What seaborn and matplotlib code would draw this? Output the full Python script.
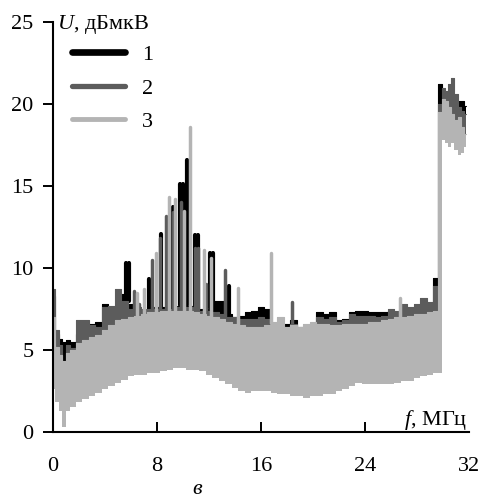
import numpy as np
import pandas as pd
import matplotlib
matplotlib.use("Agg")
import matplotlib.pyplot as plt
import seaborn as sns
from matplotlib.lines import Line2D

# ---------------- data ----------------
freq = [0.0, 0.3, 0.6, 0.85, 1.1, 1.5, 2.0, 2.5, 3.0, 3.5, 4.0, 4.5, 5.0, 5.5,
        6.0, 6.5, 7.0, 7.5, 8.0, 8.5, 9.0, 9.5, 10.0, 10.5, 11.0, 11.5, 12.0,
        12.5, 13.0, 13.5, 14.0, 14.5, 15.0, 15.5, 16.0, 16.5, 17.0, 17.5, 18.0,
        18.5, 19.0, 19.5, 20.0, 20.5, 21.0, 21.5, 22.0, 22.5, 23.0, 23.5, 24.0,
        24.5, 25.0, 25.5, 26.0, 26.5, 27.0, 27.5, 28.0, 28.5, 29.0, 29.5, 29.8,
        30.0, 30.25, 30.5, 30.75, 31.0, 31.25, 31.5, 31.75]

# upper envelope of series 1 (black)
top1 = [8.3, 6.0, 5.7, 5.5, 5.6, 5.5, 6.0, 6.3, 6.6, 6.7, 7.8, 7.5, 7.6, 8.4,
        7.8, 7.3, 7.4, 7.6, 7.6, 7.6, 7.6, 7.7, 7.8, 7.7, 7.6, 7.5, 7.5,
        8.0, 8.0, 7.2, 7.0, 7.1, 7.3, 7.4, 7.6, 7.5, 6.6, 6.4, 6.6,
        6.8, 6.4, 6.4, 6.6, 7.3, 7.2, 7.3, 6.8, 6.9, 7.3, 7.4, 7.4,
        7.3, 7.3, 7.3, 7.4, 7.3, 7.2, 7.4, 7.5, 7.6, 7.8, 9.4, 21.2,
        20.6, 20.2, 20.0, 19.8, 19.6, 20.2, 20.2, 19.9]
# upper envelope of series 2 (dark grey)
top2 = [8.7, 6.2, 5.3, 4.2, 5.3, 5.1, 6.8, 6.8, 6.5, 6.4, 7.6, 7.7, 8.7, 8.0,
        7.5, 7.6, 7.5, 7.5, 7.5, 7.5, 7.5, 7.6, 7.6, 7.6, 7.5, 7.4, 7.4,
        7.3, 7.2, 7.0, 7.0, 6.9, 6.9, 6.9, 7.0, 6.9, 6.5, 6.6, 6.4,
        6.6, 6.3, 6.2, 6.4, 7.0, 6.9, 7.0, 6.7, 6.8, 7.2, 7.1, 7.1,
        7.1, 7.0, 7.1, 7.5, 7.4, 7.8, 7.6, 7.8, 8.2, 7.9, 8.9, 20.0,
        21.0, 20.8, 21.2, 21.6, 20.6, 19.8, 19.6, 19.4]
# upper envelope of series 3 (light grey)
top3 = [7.0, 5.2, 4.7, 4.3, 4.8, 5.0, 5.4, 5.6, 5.8, 5.9, 6.2, 6.5, 6.8, 6.9,
        7.0, 7.1, 7.2, 7.3, 7.3, 7.4, 7.4, 7.4, 7.4, 7.4, 7.3, 7.2, 7.1,
        7.0, 6.9, 6.7, 6.6, 6.5, 6.4, 6.4, 6.4, 6.5, 6.7, 7.0, 6.4,
        6.5, 6.4, 6.6, 6.7, 6.6, 6.6, 6.5, 6.5, 6.6, 6.6, 6.6, 6.6,
        6.7, 6.7, 6.8, 6.9, 7.0, 7.0, 7.1, 7.2, 7.2, 7.3, 7.4, 19.5,
        20.3, 20.2, 19.8, 19.4, 19.0, 19.2, 18.6, 18.2]
# lower envelope of the noise band
low = [2.6, 1.8, 1.3, 0.3, 1.3, 1.5, 1.8, 2.0, 2.2, 2.4, 2.6, 2.8, 3.0, 3.2,
       3.4, 3.5, 3.5, 3.6, 3.6, 3.7, 3.8, 3.9, 3.9, 3.8, 3.8, 3.7, 3.5,
       3.3, 3.1, 2.9, 2.7, 2.5, 2.4, 2.5, 2.5, 2.5, 2.4, 2.3, 2.3,
       2.2, 2.2, 2.1, 2.2, 2.2, 2.3, 2.3, 2.5, 2.6, 2.8, 3.0, 2.9,
       2.9, 2.9, 2.9, 2.9, 3.0, 3.1, 3.1, 3.3, 3.4, 3.5, 3.6, 3.6,
       17.8, 17.6, 17.4, 17.6, 17.2, 16.9, 17.0, 17.4]

# narrow harmonic peaks (frequency, level)
spk1_f = [5.6, 5.85, 7.4, 8.3, 9.2, 9.75, 10.0, 10.3, 10.9, 11.15, 12.05, 12.3, 13.55]
spk1_u = [10.3, 10.3, 9.3, 12.1, 13.7, 15.1, 15.1, 16.6, 12.0, 12.0, 10.9, 10.9, 8.9]
spk2_f = [6.2, 6.6, 7.65, 8.25, 8.7, 9.2, 9.85, 10.95, 11.15, 11.8, 13.25, 18.35]
spk2_u = [8.6, 7.8, 10.5, 11.8, 13.2, 13.4, 14.0, 11.2, 11.2, 9.0, 9.9, 7.9]
spk3_f = [6.45, 7.0, 7.9, 8.9, 9.4, 10.05, 10.5, 11.65, 12.15, 14.2, 16.8, 26.7]
spk3_u = [8.5, 8.7, 10.9, 14.3, 14.2, 13.5, 18.6, 11.1, 10.6, 8.8, 10.9, 8.2]

series_labels = ["1", "2", "3"]
x_ticks = [0, 8, 16, 24, 32]
y_ticks = [0, 5, 10, 15, 20, 25]

# ---------------- style ----------------
sns.set_theme(style="ticks")
plt.rcParams.update({
    "font.family": ["Liberation Serif", "DejaVu Serif"],
    "mathtext.fontset": "custom",
    "mathtext.rm": "Liberation Serif",
    "mathtext.it": "Liberation Serif:italic",
    "font.size": 16,
    "text.color": "black",
    "axes.edgecolor": "black",
    "xtick.color": "black",
    "ytick.color": "black",
})

colors = ["#000000", "#5c5c5c", "#b4b4b4"]
spike_lw = [3.0, 2.5, 2.5]
legend_lw = [4.8, 3.8, 3.5]

fig = plt.figure(figsize=(4.81, 4.99), dpi=100)
ax = fig.add_axes([0.1102, 0.1343, 0.8649, 0.8216])

freq_a = np.array(freq)
low_a = np.array(low)
tops = [np.array(top1), np.array(top2), np.array(top3)]
spikes = [(spk1_f, spk1_u), (spk2_f, spk2_u), (spk3_f, spk3_u)]

for i in range(3):
    df = pd.DataFrame({"f": freq_a, "u": tops[i]})
    ax.fill_between(freq_a, low_a, tops[i], step="mid", color=colors[i],
                    linewidth=0, zorder=2 + i)
    sns.lineplot(data=df, x="f", y="u", drawstyle="steps-mid", color=colors[i],
                 lw=0.8, ax=ax, zorder=2 + i, legend=False)
    sf, su = spikes[i]
    base = np.interp(sf, freq_a, tops[i])
    lc = ax.vlines(sf, base, su, colors=colors[i], linewidth=spike_lw[i],
                   zorder=2 + i)
    lc.set_capstyle("round")

ax.set_xlim(0, 32)
ax.set_ylim(0, 25)
ax.set_xticks(x_ticks)
ax.set_yticks(y_ticks)
ax.set_xlabel("")
ax.set_ylabel("")
ax.tick_params(axis="x", direction="in", length=7, width=1.4, pad=18,
               labelsize=16)
ax.tick_params(axis="y", direction="out", length=7, width=1.4, pad=7,
               labelsize=16)
xt = ax.xaxis.get_major_ticks()
xt[0].tick1line.set_visible(False)
xt[-1].tick1line.set_visible(False)
sns.despine(ax=ax)
for s in ["left", "bottom"]:
    ax.spines[s].set_linewidth(1.5)
    ax.spines[s].set_color("black")
    ax.spines[s].set_zorder(10)

ax.text(0.3, 24.55, r"$U$, дБмкВ", ha="left", va="baseline", fontsize=16,
        zorder=12)
ax.text(31.9, 0.45, r"$f$, МГц", ha="right", va="baseline", fontsize=16,
        zorder=12)
fig.text(0.41, 0.019, "в", style="italic", ha="center", va="center",
         fontsize=16)

handles = [Line2D([0], [0], color=colors[i], lw=legend_lw[i]) for i in range(3)]
ax.legend(handles, series_labels, loc="upper left", bbox_to_anchor=(0.045, 0.945),
          frameon=False, handlelength=2.4, handletextpad=0.75,
          labelspacing=0.58, borderpad=0, borderaxespad=0, fontsize=16)

fig.savefig("out.png", dpi=100)
